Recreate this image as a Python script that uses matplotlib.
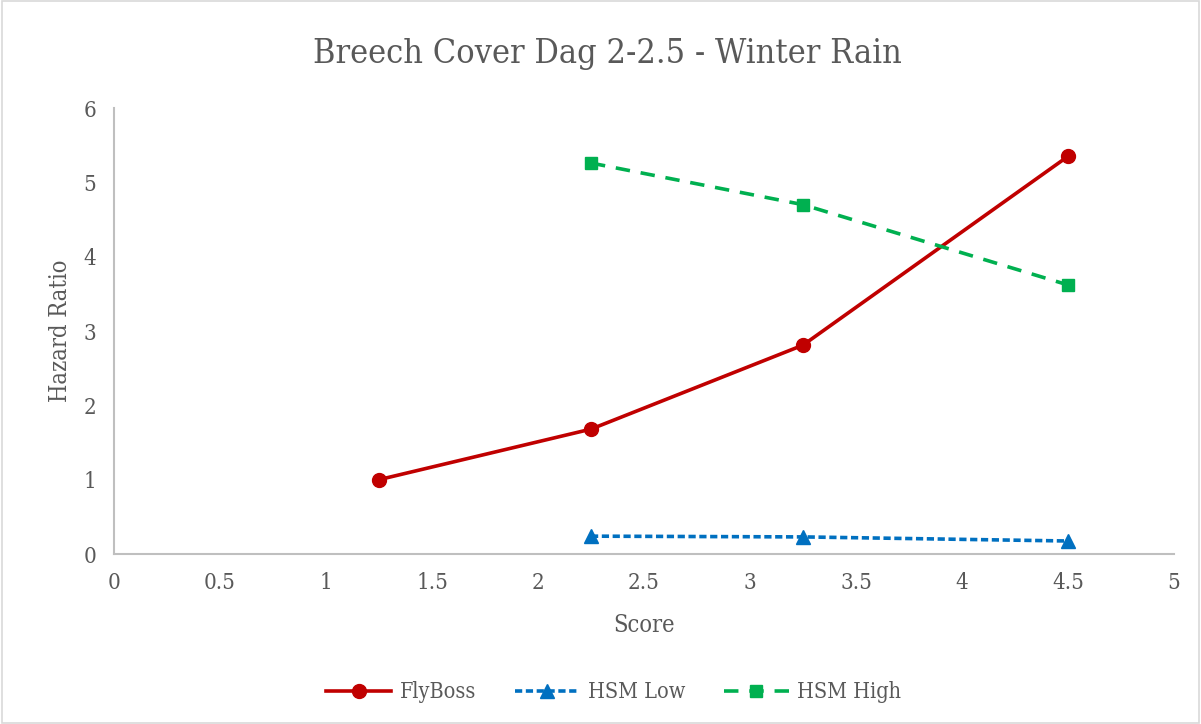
import matplotlib
matplotlib.use("Agg")
import matplotlib.pyplot as plt
from matplotlib.patches import Rectangle

# data
flyboss_x = [1.25, 2.25, 3.25, 4.5]
flyboss_y = [1.0, 1.68, 2.81, 5.35]
low_x = [2.25, 3.25, 4.5]
low_y = [0.24, 0.23, 0.175]
high_x = [2.25, 3.25, 4.5]
high_y = [5.26, 4.70, 3.62]

xticks = [0, 0.5, 1, 1.5, 2, 2.5, 3, 3.5, 4, 4.5, 5]
xticklabels = ["0", "0.5", "1", "1.5", "2", "2.5", "3", "3.5", "4", "4.5", "5"]
yticks = [0, 1, 2, 3, 4, 5, 6]

txt = "#595959"
plt.rcParams['font.family'] = ['DejaVu Serif']
plt.rcParams['font.stretch'] = 'condensed'

fig = plt.figure(figsize=(12.01, 7.24), dpi=100)
ax = fig.add_axes([0.0949, 0.2348, 0.8826, 0.616])

ax.plot(flyboss_x, flyboss_y, color="#c00000", lw=2.6, marker="o", ms=10, label="FlyBoss")
ax.plot(low_x, low_y, color="#0070c0", lw=2.6, ls=(0, (2, 1)), marker="^", ms=10, label="HSM Low")
ax.plot(high_x, high_y, color="#00b050", lw=2.6, ls=(0, (4, 3)), marker="s", ms=9, label="HSM High")

ax.set_xlim(0, 5)
ax.set_ylim(0, 6)
ax.set_xticks(xticks)
ax.set_xticklabels(xticklabels)
ax.set_yticks(yticks)
ax.tick_params(length=0, labelsize=16, colors=txt, pad=13)
for s in ["top", "right"]:
    ax.spines[s].set_visible(False)
for s in ["left", "bottom"]:
    ax.spines[s].set_color("#bfbfbf")
    ax.spines[s].set_linewidth(1.5)

ax.set_xlabel("Score", fontsize=17, color=txt, labelpad=14)
ax.set_ylabel("Hazard Ratio", fontsize=17, color=txt, labelpad=8)
fig.text(0.506, 0.925, "Breech Cover Dag 2-2.5 - Winter Rain", ha="center", va="center",
         fontsize=24.5, color=txt)

leg = fig.legend(loc="center", bbox_to_anchor=(0.511, 0.044), ncol=3, frameon=False,
                 fontsize=15.5, handlelength=3.0, columnspacing=1.8, handletextpad=0.4)
for t in leg.get_texts():
    t.set_color(txt)

fig.patches.append(Rectangle((0.002, 0.002), 0.996, 0.996, transform=fig.transFigure,
                             fill=False, edgecolor="#d9d9d9", lw=1.2))

fig.savefig("out.png", dpi=100)
